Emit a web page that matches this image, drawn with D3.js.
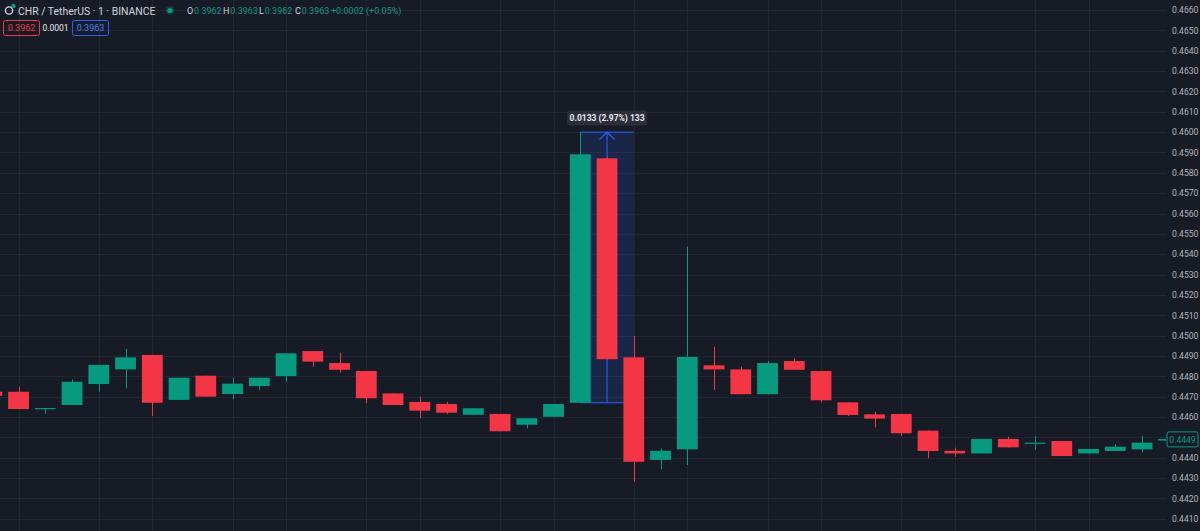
<!DOCTYPE html>
<html>
<head>
<meta charset="utf-8">
<script src="https://cdn.jsdelivr.net/npm/d3@7/dist/d3.min.js"></script>
<style>
  html, body { margin: 0; padding: 0; background: #171b26; }
  svg { display: block; font-family: Roboto, "Noto Sans", Arial, sans-serif; }
</style>
</head>
<body>
<div class="chart"></div>
<script>
// one-minute candles (index 0 is cut by the left edge)
const opens  = [0.44724, 0.44724, 0.44643, 0.44659, 0.44762, 0.44834, 0.44905, 0.44684, 0.44803, 0.44713,
                0.44752, 0.44801, 0.44924, 0.44865, 0.44826, 0.44716, 0.44674, 0.44664, 0.44611, 0.44615,
                0.44562, 0.44601, 0.44670, 0.45871, 0.44893, 0.44389, 0.44441, 0.44854, 0.44834, 0.44712,
                0.44875, 0.44826, 0.44672, 0.44613, 0.44615, 0.44533, 0.44434, 0.44421, 0.44492, 0.44474,
                0.44482, 0.44421, 0.44433, 0.44441, 0.44490];
const highs  = [0.44724, 0.44749, 0.44644, 0.44785, 0.44856, 0.44934, 0.44905, 0.44793, 0.44803, 0.44793,
                0.44793, 0.44913, 0.44924, 0.44916, 0.44826, 0.44716, 0.44700, 0.44675, 0.44643, 0.44615,
                0.44594, 0.44664, 0.46000, 0.45880, 0.44998, 0.44446, 0.45437, 0.44945, 0.44847, 0.44875,
                0.44888, 0.44826, 0.44672, 0.44626, 0.44615, 0.44533, 0.44449, 0.44492, 0.44503, 0.44506,
                0.44482, 0.44443, 0.44466, 0.44508, 0.44490];
const lows   = [0.44704, 0.44639, 0.44615, 0.44659, 0.44724, 0.44741, 0.44605, 0.44684, 0.44700, 0.44687,
                0.44733, 0.44773, 0.44847, 0.44818, 0.44667, 0.44659, 0.44594, 0.44615, 0.44611, 0.44530,
                0.44544, 0.44601, 0.44670, 0.44884, 0.44282, 0.44343, 0.44364, 0.44733, 0.44712, 0.44712,
                0.44832, 0.44672, 0.44605, 0.44548, 0.44508, 0.44397, 0.44405, 0.44421, 0.44451, 0.44438,
                0.44408, 0.44421, 0.44433, 0.44427, 0.44490];
const closes = [0.44704, 0.44639, 0.44644, 0.44773, 0.44856, 0.44893, 0.44670, 0.44793, 0.44700, 0.44764,
                0.44793, 0.44913, 0.44872, 0.44832, 0.44692, 0.44659, 0.44631, 0.44621, 0.44643, 0.44530,
                0.44594, 0.44664, 0.45891, 0.44884, 0.44380, 0.44434, 0.44895, 0.44834, 0.44712, 0.44865,
                0.44832, 0.44682, 0.44610, 0.44592, 0.44520, 0.44433, 0.44421, 0.44492, 0.44451, 0.44474,
                0.44408, 0.44443, 0.44454, 0.44474, 0.44490];

// time grid falls on these candles
const timeGridIdx = [1, 4, 6, 9, 11, 14, 16, 19, 21, 24, 26, 29, 31, 34, 36, 39, 41];
// price scale labels
const priceTicks = d3.range(25, -1, -1).map(i => +(0.4410 + i * 0.001).toFixed(4));

const lastPrice = 0.4449;
const measureFrom = 22, measureTo = 24;
const measureLow = 0.4467, measureHigh = 0.4600;
const measureText = '0.0133 (2.97%) 133';

const symbolTitle = 'CHR / TetherUS · 1 · BINANCE';
const ohlcLegend = [['O', '0.3962'], ['H', '0.3963'], ['L', '0.3962'], ['C', '0.3963']];
const changeText = '+0.0002 (+0.05%)';
const bidText = '0.3962', spreadText = '0.0001', askText = '0.3963';

const width = 1200, height = 531, paneW = 1166;
const up = '#089981', down = '#f23645', blue = '#2962ff';

const svg = d3.select('.chart').append('svg')
    .attr('width', width)
    .attr('height', height);
svg.append('rect').attr('width', width).attr('height', height).attr('fill', '#171b26');

const x = d3.scaleLinear().domain([0, 44]).range([-8.2, -8.2 + 26.75 * 44]);
const y = d3.scaleLinear().domain([0.4410, 0.4660]).range([518.75, 10]);
const bodyW = 20.8;

svg.append('defs').append('clipPath').attr('id', 'pane')
    .append('rect').attr('width', paneW).attr('height', height);

const pane = svg.append('g').attr('clip-path', 'url(#pane)');

// grid
pane.append('g').selectAll('line.h')
    .data(priceTicks)
    .enter().append('line')
    .attr('x1', 0).attr('x2', paneW)
    .attr('y1', d => Math.round(y(d)) + 0.5).attr('y2', d => Math.round(y(d)) + 0.5)
    .attr('stroke', '#222631');
pane.append('g').selectAll('line.v')
    .data(timeGridIdx)
    .enter().append('line')
    .attr('x1', d => Math.round(x(d)) + 0.5).attr('x2', d => Math.round(x(d)) + 0.5)
    .attr('y1', 0).attr('y2', height)
    .attr('stroke', '#222631');

// price range tool (sits under the candles)
const mx0 = x(measureFrom), mx1 = x(measureTo), mxc = (mx0 + mx1) / 2;
const measure = pane.append('g');
measure.append('rect')
    .attr('x', mx0).attr('y', y(measureHigh))
    .attr('width', mx1 - mx0).attr('height', y(measureLow) - y(measureHigh))
    .attr('fill', blue).attr('fill-opacity', 0.16);
[measureHigh, measureLow].forEach(p => {
    measure.append('line')
        .attr('x1', mx0).attr('x2', mx1)
        .attr('y1', y(p)).attr('y2', y(p))
        .attr('stroke', blue).attr('stroke-width', 1);
});
measure.append('line')
    .attr('x1', mxc).attr('x2', mxc)
    .attr('y1', y(measureLow)).attr('y2', y(measureHigh))
    .attr('stroke', blue);
measure.append('path')
    .attr('d', `M${mxc - 7.5},${y(measureHigh) + 7.5}L${mxc},${y(measureHigh)}L${mxc + 7.5},${y(measureHigh) + 7.5}`)
    .attr('fill', 'none').attr('stroke', blue).attr('stroke-width', 1.2);

// candles
const candles = d3.range(opens.length).map(i => ({
    i: i, o: opens[i], h: highs[i], l: lows[i], c: closes[i]
}));
const color = d => d.c >= d.o ? up : down;
const cg = pane.append('g').selectAll('g')
    .data(candles)
    .enter().append('g');
cg.append('line')
    .attr('x1', d => Math.round(x(d.i)) + 0.5).attr('x2', d => Math.round(x(d.i)) + 0.5)
    .attr('y1', d => y(d.h)).attr('y2', d => y(d.l))
    .attr('stroke', color);
cg.append('rect')
    .attr('x', d => x(d.i) - bodyW / 2)
    .attr('width', bodyW)
    .attr('y', d => y(Math.max(d.o, d.c)))
    .attr('height', d => Math.max(1.2, Math.abs(y(d.o) - y(d.c))))
    .attr('fill', color);

// last price line stub
pane.append('line')
    .attr('x1', 1158).attr('x2', paneW)
    .attr('y1', y(lastPrice)).attr('y2', y(lastPrice))
    .attr('stroke', up);

// price scale
const axis = svg.append('g')
    .attr('transform', `translate(${paneW + 6},0)`)
    .call(d3.axisRight(y).tickValues(priceTicks).tickSize(0).tickFormat(d3.format('.4f')));
axis.select('.domain').remove();
axis.selectAll('text')
    .attr('x', 0)
    .style('font-size', '8.6px')
    .style('font-family', 'Roboto, "Noto Sans", sans-serif')
    .attr('fill', '#b2b5be');
// hide the tick that the last price badge covers
axis.selectAll('.tick').filter(d => Math.abs(y(d) - y(lastPrice)) < 12).remove();

const badge = svg.append('g').attr('transform', `translate(1167,${y(lastPrice)})`);
badge.append('rect')
    .attr('x', 0).attr('y', -7.5).attr('width', 31).attr('height', 15).attr('rx', 2)
    .attr('fill', '#171b26').attr('stroke', up);
badge.append('text')
    .attr('x', 15.5).attr('y', 3.2).attr('text-anchor', 'middle')
    .style('font-size', '8.6px')
    .attr('fill', up)
    .text(d3.format('.4f')(lastPrice));

// measure tooltip
const tip = svg.append('g').attr('transform', `translate(${mxc},118)`);
tip.append('rect')
    .attr('x', -40).attr('y', -7.5).attr('width', 80).attr('height', 15).attr('rx', 2)
    .attr('fill', '#2a2e39');
tip.append('text')
    .attr('x', 0).attr('y', 3.3).attr('text-anchor', 'middle')
    .style('font-size', '8.5px').style('font-weight', 'bold')
    .attr('fill', '#e8e9ec')
    .text(measureText);

// legend header
const head = svg.append('g');
head.append('circle').attr('cx', 9).attr('cy', 10.5).attr('r', 3.6)
    .attr('fill', 'none').attr('stroke', '#d1d4dc').attr('stroke-width', 1.4);
head.append('circle').attr('cx', 13.5).attr('cy', 6).attr('r', 2.2).attr('fill', up);
head.append('text')
    .attr('x', 18).attr('y', 14.5)
    .style('font-size', '10.4px')
    .attr('fill', '#d1d4dc')
    .text(symbolTitle);
head.append('circle').attr('cx', 170).attr('cy', 10.5).attr('r', 4.5).attr('fill', up).attr('fill-opacity', 0.25);
head.append('circle').attr('cx', 170).attr('cy', 10.5).attr('r', 2.6).attr('fill', up);

const ohlcX = [187, 223, 259, 295];
ohlcLegend.forEach((d, k) => {
    const t = head.append('text')
        .attr('x', ohlcX[k]).attr('y', 14)
        .style('font-size', '9px');
    t.append('tspan').attr('fill', '#d1d4dc').text(d[0]);
    t.append('tspan').attr('dx', 0.8).attr('fill', up).text(d[1]);
});
head.append('text')
    .attr('x', 331).attr('y', 14)
    .style('font-size', '9px')
    .attr('fill', up)
    .text(changeText);

// bid / spread / ask
head.append('rect').attr('x', 3.5).attr('y', 20.5).attr('width', 36).attr('height', 15).attr('rx', 2)
    .attr('fill', 'none').attr('stroke', down);
head.append('text').attr('x', 21.5).attr('y', 31.3).attr('text-anchor', 'middle')
    .style('font-size', '9px').attr('fill', down).text(bidText);
head.append('text').attr('x', 55.5).attr('y', 31.3).attr('text-anchor', 'middle')
    .style('font-size', '8.5px').attr('fill', '#e8e9ec').text(spreadText);
head.append('rect').attr('x', 72.5).attr('y', 20.5).attr('width', 36).attr('height', 15).attr('rx', 2)
    .attr('fill', 'none').attr('stroke', blue);
head.append('text').attr('x', 90.5).attr('y', 31.3).attr('text-anchor', 'middle')
    .style('font-size', '9px').attr('fill', '#4f7dff').text(askText);
</script>
</body>
</html>
